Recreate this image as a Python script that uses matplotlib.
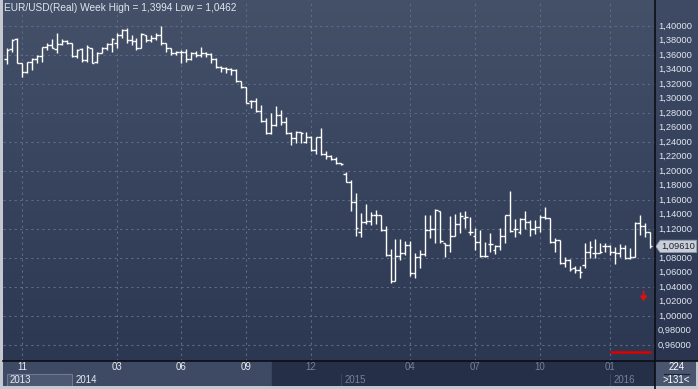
import numpy as np
import matplotlib
matplotlib.use("Agg")
import matplotlib.pyplot as plt
from matplotlib.colors import LinearSegmentedColormap
from matplotlib.lines import Line2D
from matplotlib.patches import Rectangle, Polygon

# weekly EUR/USD bars
opens = [1.3545, 1.3683, 1.3821, 1.3490, 1.3366, 1.3503, 1.3545, 1.3586, 1.3710, 1.3738,
         1.3683, 1.3752, 1.3793, 1.3766, 1.3586, 1.3683, 1.3531, 1.3697, 1.3503, 1.3628,
         1.3697, 1.3752, 1.3766, 1.3876, 1.3945, 1.3807, 1.3793, 1.3697, 1.3876, 1.3807,
         1.3834, 1.3876, 1.3766, 1.3697, 1.3628, 1.3641, 1.3641, 1.3545, 1.3628, 1.3600,
         1.3628, 1.3614, 1.3545, 1.3434, 1.3421, 1.3407, 1.3393, 1.3241, 1.3159, 1.2966,
         1.2966, 1.2828, 1.2690, 1.2524, 1.2634, 1.2772, 1.2676, 1.2524, 1.2455, 1.2538,
         1.2400, 1.2469, 1.2290, 1.2469, 1.2234, 1.2207, 1.2166, 1.2110, 1.1959, 1.1848,
         1.1573, 1.1159, 1.1297, 1.1310, 1.1393, 1.1393, 1.1186, 1.0841, 1.0483, 1.0828,
         1.0869, 1.0979, 1.0593, 1.0814, 1.0855, 1.1186, 1.1200, 1.1448, 1.1007, 1.0979,
         1.1103, 1.1269, 1.1352, 1.1159, 1.1103, 1.1021, 1.0828, 1.0993, 1.0910, 1.0966,
         1.1103, 1.1393, 1.1200, 1.1159, 1.1338, 1.1297, 1.1200, 1.1228, 1.1366, 1.1352,
         1.1021, 1.1048, 1.0731, 1.0772, 1.0662, 1.0634, 1.0704, 1.0883, 1.0869, 1.0869,
         1.0966, 1.0966, 1.0883, 1.0869, 1.0938, 1.0800, 1.0814, 1.1283, 1.1241, 1.1159]
highs = [1.3697, 1.3821, 1.3834, 1.3490, 1.3503, 1.3559, 1.3600, 1.3710, 1.3766, 1.3821,
         1.3903, 1.3821, 1.3807, 1.3766, 1.3683, 1.3697, 1.3738, 1.3697, 1.3641, 1.3710,
         1.3766, 1.3834, 1.3903, 1.3959, 1.3972, 1.3876, 1.3834, 1.3903, 1.3876, 1.3876,
         1.3903, 1.3994, 1.3766, 1.3697, 1.3655, 1.3669, 1.3683, 1.3641, 1.3655, 1.3710,
         1.3641, 1.3628, 1.3559, 1.3448, 1.3434, 1.3421, 1.3407, 1.3241, 1.3159, 1.2979,
         1.3007, 1.2910, 1.2731, 1.2800, 1.2897, 1.2841, 1.2745, 1.2538, 1.2552, 1.2538,
         1.2538, 1.2483, 1.2469, 1.2593, 1.2276, 1.2221, 1.2193, 1.2110, 1.1986, 1.1876,
         1.1697, 1.1421, 1.1545, 1.1435, 1.1462, 1.1393, 1.1241, 1.0924, 1.1062, 1.1062,
         1.1034, 1.1034, 1.0869, 1.0910, 1.1393, 1.1393, 1.1476, 1.1448, 1.1007, 1.1379,
         1.1407, 1.1435, 1.1448, 1.1366, 1.1214, 1.1186, 1.1021, 1.1145, 1.0979, 1.1214,
         1.1393, 1.1724, 1.1338, 1.1352, 1.1448, 1.1324, 1.1324, 1.1393, 1.1504, 1.1352,
         1.1076, 1.1048, 1.0814, 1.0786, 1.0690, 1.0690, 1.1007, 1.1034, 1.1062, 1.1007,
         1.1007, 1.0979, 1.0952, 1.0993, 1.0979, 1.0938, 1.1297, 1.1393, 1.1283, 1.1159]
lows = [1.3476, 1.3641, 1.3490, 1.3297, 1.3352, 1.3393, 1.3490, 1.3503, 1.3669, 1.3697,
        1.3628, 1.3738, 1.3752, 1.3572, 1.3559, 1.3503, 1.3503, 1.3490, 1.3490, 1.3628,
        1.3669, 1.3641, 1.3697, 1.3834, 1.3766, 1.3738, 1.3669, 1.3697, 1.3779, 1.3779,
        1.3807, 1.3738, 1.3641, 1.3600, 1.3600, 1.3490, 1.3503, 1.3531, 1.3572, 1.3572,
        1.3572, 1.3490, 1.3421, 1.3366, 1.3352, 1.3324, 1.3228, 1.3145, 1.2938, 1.2869,
        1.2814, 1.2676, 1.2510, 1.2510, 1.2621, 1.2634, 1.2510, 1.2359, 1.2386, 1.2386,
        1.2386, 1.2276, 1.2234, 1.2221, 1.2166, 1.2152, 1.2097, 1.2083, 1.1848, 1.1448,
        1.1103, 1.1090, 1.1269, 1.1256, 1.1269, 1.1172, 1.0828, 1.0462, 1.0483, 1.0772,
        1.0841, 1.0552, 1.0524, 1.0662, 1.0828, 1.1076, 1.1007, 1.1007, 1.0814, 1.0883,
        1.1103, 1.1145, 1.1214, 1.1117, 1.0910, 1.0814, 1.0814, 1.0883, 1.0855, 1.0910,
        1.1007, 1.1159, 1.1090, 1.1131, 1.1200, 1.1103, 1.1131, 1.1159, 1.1338, 1.1007,
        1.0883, 1.0717, 1.0676, 1.0621, 1.0593, 1.0524, 1.0662, 1.0800, 1.0800, 1.0869,
        1.0883, 1.0841, 1.0717, 1.0814, 1.0786, 1.0786, 1.0814, 1.1117, 1.1090, 1.0938]
closes = [1.3669, 1.3807, 1.3490, 1.3366, 1.3503, 1.3545, 1.3586, 1.3710, 1.3738, 1.3697,
          1.3752, 1.3793, 1.3766, 1.3586, 1.3669, 1.3531, 1.3710, 1.3490, 1.3628, 1.3697,
          1.3752, 1.3821, 1.3876, 1.3945, 1.3807, 1.3793, 1.3697, 1.3890, 1.3807, 1.3834,
          1.3876, 1.3766, 1.3697, 1.3628, 1.3641, 1.3641, 1.3545, 1.3628, 1.3600, 1.3628,
          1.3614, 1.3545, 1.3434, 1.3421, 1.3407, 1.3393, 1.3241, 1.3159, 1.2938, 1.2966,
          1.2828, 1.2690, 1.2524, 1.2634, 1.2772, 1.2676, 1.2524, 1.2455, 1.2538, 1.2524,
          1.2469, 1.2290, 1.2469, 1.2234, 1.2207, 1.2166, 1.2110, 1.2097, 1.1848, 1.1573,
          1.1214, 1.1297, 1.1310, 1.1393, 1.1393, 1.1186, 1.0841, 1.0483, 1.0828, 1.0869,
          1.0979, 1.0593, 1.0814, 1.0855, 1.1186, 1.1200, 1.1462, 1.1034, 1.0979, 1.1103,
          1.1269, 1.1379, 1.1366, 1.1159, 1.1021, 1.0828, 1.0828, 1.0993, 1.0966, 1.1103,
          1.1393, 1.1172, 1.1200, 1.1338, 1.1297, 1.1200, 1.1228, 1.1366, 1.1352, 1.1021,
          1.1048, 1.0731, 1.0772, 1.0648, 1.0634, 1.0607, 1.0883, 1.0952, 1.0869, 1.0883,
          1.0966, 1.0883, 1.0869, 1.0938, 1.0800, 1.0814, 1.1283, 1.1241, 1.1159, 1.0961]

# month gridlines (bar index) and labels
month_idx = [3, 22, 35, 48, 61, 81, 94, 107, 121]
month_lbl = ["11", "03", "06", "09", "12", "04", "07", "10", "01"]
year_lbl = ["2013", "2014", "2015", "2016"]
year_idx = [0.6, 13.8, 67.8, 121.8]
price_ticks = np.round(np.arange(0.96, 1.4001, 0.02), 2)
last_price = 1.0961
title = "EUR/USD(Real) Week High = 1,3994 Low = 1,0462"

W, H = 698, 389
XL = (-0.8, 130.1)
YL = (0.938, 1.4359)
FONT = "Liberation Sans"

fig = plt.figure(figsize=(W / 100, H / 100), dpi=100)
fig.patch.set_facecolor("#c3c8d1")

def fx(px):
    return px / W

def fy(py):
    return 1 - py / H

# main price area
ax = fig.add_axes([fx(3), fy(361), fx(652), 361 / H])
ax.set_xlim(*XL)
ax.set_ylim(*YL)
grad = LinearSegmentedColormap.from_list("bg", ["#2c3752", "#445169"])
ax.imshow(np.linspace(0, 1, 256).reshape(-1, 1), cmap=grad, origin="lower",
          extent=[0, 1, 0, 1], transform=ax.transAxes, aspect="auto", zorder=0)
for s in ax.spines.values():
    s.set_visible(False)
ax.set_xticks([])
ax.set_yticks([])

for v in price_ticks[::2]:
    ax.axhline(v, color="#5d6b86", lw=0.8, ls=(0, (2, 3)), zorder=1)
for m in month_idx:
    ax.axvline(m, color="#5d6b86", lw=0.8, ls=(0, (2, 3)), zorder=1)

x = np.arange(len(opens))
ax.vlines(x, lows, highs, color="white", lw=1.0, zorder=3)
ax.hlines(opens, x - 0.5, x, color="white", lw=1.0, zorder=3)
ax.hlines(closes, x, x + 0.5, color="white", lw=1.0, zorder=3)

ax.text(0.002, 0.993, title, transform=ax.transAxes, ha="left", va="top",
        color="#dfe6f0", fontsize=7.3, family=FONT)

# red marker arrow and red bar at bottom right
ax.annotate("", xy=(0.9825, 0.158), xytext=(0.9825, 0.2), xycoords="axes fraction",
            arrowprops=dict(arrowstyle="-|>,head_width=0.18,head_length=0.25",
                            color="#e01010", lw=1.3))
ax.plot([0.931, 0.994], [0.025, 0.025], transform=ax.transAxes,
        color="#e00000", lw=1.8, solid_capstyle="butt")

# right price scale
axr = fig.add_axes([fx(655), fy(361), fx(43), 361 / H])
axr.set_xlim(0, 1)
axr.set_ylim(*YL)
grad2 = LinearSegmentedColormap.from_list("bg2", ["#2b3550", "#3f4b64"])
axr.imshow(np.linspace(0, 1, 256).reshape(-1, 1), cmap=grad2, origin="lower",
           extent=[0, 1, 0, 1], transform=axr.transAxes, aspect="auto", zorder=0)
axr.axis("off")
for v in price_ticks:
    if abs(v - last_price) < 0.012:
        continue  # hidden behind the price tag
    axr.text(0.07, v, f"{v:.5f}".replace(".", ","), ha="left", va="center",
             color="#e2e8f2", fontsize=6.7, family=FONT)
axr.add_patch(Polygon([[0.02, last_price], [0.12, last_price + 0.0085], [0.97, last_price + 0.0085],
                       [0.97, last_price - 0.0085], [0.12, last_price - 0.0085]],
                      closed=True, fc="#c9ced8", ec="#8e97a8", lw=0.6, zorder=2))
axr.text(0.14, last_price, f"{last_price:.5f}".replace(".", ","), ha="left", va="center",
         color="#1c2233", fontsize=6.7, family=FONT, zorder=3)

# date strip
axb = fig.add_axes([fx(3), fy(386), fx(652), 25 / H])
axb.set_xlim(*XL)
axb.set_ylim(0, 1)
axb.axis("off")
split = 53.2
axb.axvspan(XL[0], split, color="#3e4a64", zorder=0)
axb.axvspan(split, XL[1], color="#252f48", zorder=0)
axb.add_patch(Rectangle((0.0, 0.0), 13.05, 0.5, fc="#4c5872", ec="#6d7892", lw=0.8, zorder=1))
for b in [67.1, 121.1]:
    axb.plot([b, b], [0, 0.5], color="#3a4560", lw=0.8)
for m, lbl in zip(month_idx, month_lbl):
    c = "#e8edf5" if m < split else "#76819a"
    axb.text(m, 0.74, lbl, ha="center", va="center", color=c, fontsize=6.9, family=FONT)
for yi, lbl in zip(year_idx, year_lbl):
    c = "#e8edf5" if yi < split else "#76819a"
    axb.text(yi, 0.25, lbl, ha="left", va="center", color=c, fontsize=6.9, family=FONT)

# corner box
axc = fig.add_axes([fx(655), fy(386), fx(41), 25 / H])
axc.set_xlim(0, 1)
axc.set_ylim(0, 1)
axc.axis("off")
axc.add_patch(Rectangle((0, 0), 1, 1, fc="#4a5670", ec="none"))
axc.text(0.52, 0.74, "224", ha="center", va="center", color="white", fontsize=6.9, family=FONT)
axc.plot([0.22, 0.82], [0.5, 0.5], color="#1e2538", lw=0.9)
axc.text(0.52, 0.25, ">131<", ha="center", va="center", color="white", fontsize=6.9, family=FONT)

# black separators
fig.add_artist(Line2D([fx(3), fx(698)], [fy(361), fy(361)], color="#0b0e16", lw=1.2))
fig.add_artist(Line2D([fx(655), fx(655)], [fy(389), 1], color="#0b0e16", lw=1.2))

fig.savefig("out.png", dpi=100, facecolor=fig.get_facecolor())
